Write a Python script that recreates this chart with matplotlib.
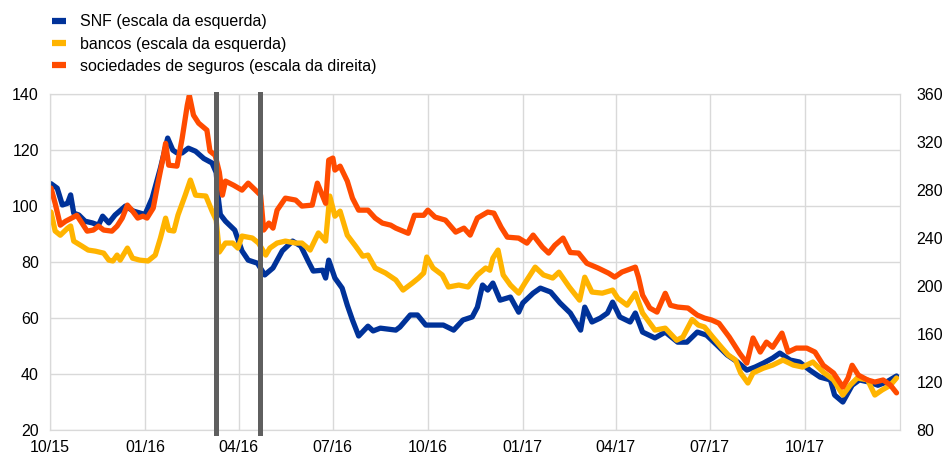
import pandas as pd
import matplotlib.pyplot as plt
import matplotlib.dates as mdates
from matplotlib.lines import Line2D

plt.rcParams['font.family'] = ['Liberation Sans', 'DejaVu Sans']

# SNF (escala da esquerda)
snf_dates = ['2015-10-02', '2015-10-08', '2015-10-13', '2015-10-18', '2015-10-21', '2015-10-24',
             '2015-10-29', '2015-11-04', '2015-11-11', '2015-11-17', '2015-11-21', '2015-11-27',
             '2015-12-03', '2015-12-13', '2015-12-21', '2016-01-01', '2016-01-08', '2016-01-16',
             '2016-01-23', '2016-01-28', '2016-02-01', '2016-02-06', '2016-02-12', '2016-02-19',
             '2016-02-27', '2016-03-06', '2016-03-10', '2016-03-12', '2016-03-14', '2016-03-19',
             '2016-03-28', '2016-04-04', '2016-04-10', '2016-04-19', '2016-04-26', '2016-05-04',
             '2016-05-13', '2016-05-23', '2016-05-31', '2016-06-07', '2016-06-12', '2016-06-21',
             '2016-06-24', '2016-06-27', '2016-07-03', '2016-07-10', '2016-07-15', '2016-07-20',
             '2016-07-26', '2016-08-04', '2016-08-09', '2016-08-16', '2016-08-31', '2016-09-04',
             '2016-09-14', '2016-09-21', '2016-09-29', '2016-10-06', '2016-10-16', '2016-10-26',
             '2016-11-04', '2016-11-13', '2016-11-18', '2016-11-23', '2016-11-28', '2016-12-03',
             '2016-12-10', '2016-12-20', '2016-12-28', '2017-01-01', '2017-01-11', '2017-01-18',
             '2017-01-28', '2017-02-06', '2017-02-16', '2017-02-26', '2017-03-02', '2017-03-09',
             '2017-03-17', '2017-03-24', '2017-03-29', '2017-04-05', '2017-04-15', '2017-04-20',
             '2017-04-27', '2017-05-09', '2017-05-19', '2017-05-31', '2017-06-09', '2017-06-19',
             '2017-06-28', '2017-07-08', '2017-07-18', '2017-07-28', '2017-08-06', '2017-08-14',
             '2017-08-22', '2017-08-31', '2017-09-07', '2017-09-17', '2017-09-26', '2017-10-06',
             '2017-10-16', '2017-10-26', '2017-10-30', '2017-11-07', '2017-11-16', '2017-11-23',
             '2017-12-03', '2017-12-11', '2017-12-19', '2017-12-29']
snf_values = [108, 106.4, 100.4, 101, 104, 97.5,
              96.8, 94.6, 94, 93.2, 96.4, 94,
              96.8, 100, 98.2, 97, 102.9, 113.6,
              124.3, 120, 119, 119, 120.7, 119.6,
              117, 115.4, 112, 103, 97, 94.6,
              91.4, 84, 80.7, 79.6, 75.4, 77.9,
              84, 87.5, 85.7, 80.4, 76.8, 77.1,
              74.3, 80.7, 74.3, 70.7, 64.6, 59.3,
              53.6, 57.1, 55.4, 56.4, 55.7, 56.8,
              61.1, 61.1, 57.5, 57.5, 57.5, 55.7,
              59.3, 60.4, 63.9, 71.8, 70, 72.5,
              66.4, 67.5, 62.1, 65.4, 68.9, 70.7,
              69.3, 65.4, 61.8, 55.7, 63.9, 58.6,
              60, 61.8, 65.7, 60.4, 58.6, 61.8,
              55, 52.9, 55, 51.4, 51.4, 55,
              53.9, 50.4, 46.8, 44.3, 41.4, 42.5,
              43.9, 45.7, 47.5, 45, 44.3, 41.4,
              38.9, 37.9, 32.5, 30, 36, 37.9,
              37.1, 36, 37.1, 39.3]

# bancos (escala da esquerda)
bancos_dates = ['2015-10-02', '2015-10-06', '2015-10-11', '2015-10-18', '2015-10-21', '2015-10-24',
                '2015-11-01', '2015-11-07', '2015-11-14', '2015-11-22', '2015-11-27', '2015-12-01',
                '2015-12-05', '2015-12-08', '2015-12-15', '2015-12-20', '2015-12-27', '2016-01-04',
                '2016-01-11', '2016-01-16', '2016-01-21', '2016-01-24', '2016-01-29', '2016-02-02',
                '2016-02-09', '2016-02-14', '2016-02-19', '2016-02-29', '2016-03-06', '2016-03-10',
                '2016-03-13', '2016-03-19', '2016-03-26', '2016-03-31', '2016-04-04', '2016-04-14',
                '2016-04-20', '2016-04-27', '2016-05-01', '2016-05-08', '2016-05-16', '2016-05-26',
                '2016-06-01', '2016-06-09', '2016-06-17', '2016-06-24', '2016-06-28', '2016-07-03',
                '2016-07-08', '2016-07-15', '2016-07-23', '2016-07-30', '2016-08-04', '2016-08-11',
                '2016-08-21', '2016-08-31', '2016-09-07', '2016-09-16', '2016-09-22', '2016-09-27',
                '2016-09-30', '2016-10-06', '2016-10-15', '2016-10-21', '2016-10-31', '2016-11-09',
                '2016-11-18', '2016-11-26', '2016-11-30', '2016-12-03', '2016-12-08', '2016-12-13',
                '2016-12-20', '2016-12-28', '2017-01-03', '2017-01-13', '2017-01-21', '2017-01-30',
                '2017-02-05', '2017-02-15', '2017-02-25', '2017-03-02', '2017-03-09', '2017-03-19',
                '2017-03-29', '2017-04-03', '2017-04-12', '2017-04-20', '2017-04-27', '2017-05-09',
                '2017-05-19', '2017-05-30', '2017-06-05', '2017-06-14', '2017-06-20', '2017-06-26',
                '2017-07-04', '2017-07-13', '2017-07-19', '2017-07-26', '2017-07-31', '2017-08-07',
                '2017-08-12', '2017-08-22', '2017-08-31', '2017-09-10', '2017-09-20', '2017-09-29',
                '2017-10-09', '2017-10-19', '2017-10-29', '2017-11-07', '2017-11-14', '2017-11-21',
                '2017-12-01', '2017-12-08', '2017-12-15', '2017-12-23', '2017-12-29']
bancos_values = [97.9, 91.1, 89.6, 92.1, 92.9, 87.5,
                 85.7, 84.3, 83.9, 83.2, 80.7, 80.4,
                 82.5, 80.7, 85, 81.4, 80.7, 80.4,
                 82.5, 88.6, 95.7, 91.4, 91.1, 96.8,
                 103.9, 109.3, 103.9, 103.6, 98.2, 95,
                 83.6, 86.8, 86.8, 85, 89.3, 88.6,
                 86.8, 82.5, 85, 86.8, 87.5, 86.8,
                 86.8, 84.3, 90.4, 87.5, 103.6, 96.4,
                 98.2, 89.6, 85.7, 82.1, 82.5, 77.9,
                 76.1, 73.6, 70, 72.5, 74.3, 76.1,
                 81.8, 77.9, 75.4, 71.1, 71.8, 71.1,
                 75.4, 77.9, 77.1, 81.4, 84.3, 75.4,
                 71.8, 68.9, 72.5, 78.2, 75.4, 74.3,
                 76.4, 71.1, 66.4, 74.6, 69.3, 68.9,
                 70, 67.1, 64.6, 68.9, 61.8, 55.7,
                 56.4, 52.1, 53.2, 59.5, 57.5, 56.8,
                 53.2, 49.3, 46.8, 45, 40.4, 36.8,
                 40.4, 42.1, 43.2, 45, 43.2, 42.5,
                 44.3, 40.7, 37.9, 32.5, 36, 38.6,
                 37.9, 32.5, 34.3, 36, 38.6]

# sociedades de seguros (escala da direita)
seguros_dates = ['2015-10-02', '2015-10-06', '2015-10-11', '2015-10-16', '2015-10-22', '2015-10-27',
                 '2015-11-01', '2015-11-06', '2015-11-12', '2015-11-17', '2015-11-22', '2015-11-30',
                 '2015-12-05', '2015-12-10', '2015-12-15', '2015-12-20', '2015-12-25', '2015-12-30',
                 '2016-01-03', '2016-01-09', '2016-01-14', '2016-01-19', '2016-01-21', '2016-01-24',
                 '2016-02-01', '2016-02-06', '2016-02-11', '2016-02-13', '2016-02-17', '2016-02-22',
                 '2016-03-01', '2016-03-04', '2016-03-09', '2016-03-13', '2016-03-16', '2016-03-19',
                 '2016-03-27', '2016-04-04', '2016-04-10', '2016-04-17', '2016-04-22', '2016-04-25',
                 '2016-04-30', '2016-05-04', '2016-05-08', '2016-05-16', '2016-05-26', '2016-06-01',
                 '2016-06-11', '2016-06-16', '2016-06-24', '2016-06-27', '2016-07-01', '2016-07-03',
                 '2016-07-08', '2016-07-15', '2016-07-20', '2016-07-26', '2016-08-04', '2016-08-11',
                 '2016-08-18', '2016-08-26', '2016-08-31', '2016-09-12', '2016-09-18', '2016-09-27',
                 '2016-10-01', '2016-10-08', '2016-10-18', '2016-10-28', '2016-11-05', '2016-11-11',
                 '2016-11-18', '2016-11-28', '2016-12-04', '2016-12-11', '2016-12-17', '2016-12-28',
                 '2017-01-05', '2017-01-11', '2017-01-20', '2017-01-26', '2017-02-01', '2017-02-09',
                 '2017-02-16', '2017-02-24', '2017-03-04', '2017-03-15', '2017-03-25', '2017-03-31',
                 '2017-04-07', '2017-04-20', '2017-04-23', '2017-04-27', '2017-05-04', '2017-05-11',
                 '2017-05-19', '2017-05-24', '2017-05-31', '2017-06-10', '2017-06-19', '2017-06-26',
                 '2017-07-03', '2017-07-10', '2017-07-20', '2017-07-30', '2017-08-06', '2017-08-12',
                 '2017-08-19', '2017-08-25', '2017-08-31', '2017-09-09', '2017-09-15', '2017-09-23',
                 '2017-10-03', '2017-10-11', '2017-10-19', '2017-10-29', '2017-11-07', '2017-11-12',
                 '2017-11-16', '2017-11-22', '2017-12-01', '2017-12-08', '2017-12-16', '2017-12-23',
                 '2017-12-29']
seguros_values = [281.7, 269, 250.8, 254, 256.7, 259,
                  252.5, 245.8, 246.7, 250, 246.7, 245.8,
                  250, 256.7, 267.5, 262.5, 256.7, 258.3,
                  256.7, 265, 287.5, 309, 319, 300.8,
                  300, 323, 350.8, 359, 342.5, 335.8,
                  330, 312.5, 309, 295, 275.8, 287.5,
                  284, 280, 285.8, 280, 275.8, 246.7,
                  252.5, 248.3, 263.3, 273.3, 271.7, 266.7,
                  267.5, 285.8, 269, 305, 306.7, 296.7,
                  300, 287.5, 273.3, 263.3, 263.3, 256.7,
                  252.5, 250.8, 248.3, 244, 259, 259,
                  263.3, 257.5, 255, 245, 248.3, 242.5,
                  256.7, 261.7, 260.8, 249, 240.8, 240,
                  235.8, 242.5, 232.5, 227.5, 234, 240,
                  228, 227.5, 219, 215, 210.8, 207.5,
                  211.7, 215.8, 207.5, 192.5, 181.7, 178.3,
                  194, 184, 182.5, 181.7, 175.8, 173.3,
                  171.7, 169, 157.5, 144, 135.8, 156.7,
                  145, 153.3, 149, 160.8, 145, 148.3,
                  148.3, 145, 134, 127.5, 115.8, 123.3,
                  134, 125.8, 121.7, 120, 121.7, 117.5,
                  111]

# events marked with vertical bars
event_dates = ['2016-03-10', '2016-04-21']

quarter_ticks = pd.date_range('2015-10-01', '2017-10-01', freq='QS-OCT')

blue = '#003299'
yellow = '#FFB400'
orange = '#FF4B00'
grid_col = '#D9D9D9'

fig = plt.figure(figsize=(9.43, 4.57), dpi=100)
ax = fig.add_axes([0.053, 0.059, 0.901, 0.735])
ax2 = ax.twinx()

ax.plot(pd.to_datetime(snf_dates), snf_values, color=blue, lw=3.8, solid_capstyle='round')
ax.plot(pd.to_datetime(bancos_dates), bancos_values, color=yellow, lw=3.8, solid_capstyle='round')
ax2.plot(pd.to_datetime(seguros_dates), seguros_values, color=orange, lw=3.8, solid_capstyle='round')

for d in event_dates:
    ax2.axvline(pd.Timestamp(d), color='#5F5F5F', lw=3.6, ymin=-0.01, ymax=1, clip_on=False, zorder=5)

ax.set_xlim(pd.Timestamp('2015-10-01'), pd.Timestamp('2018-01-01'))
ax.set_ylim(20, 140)
ax.set_yticks(range(20, 141, 20))
ax2.set_ylim(80, 360)
ax2.set_yticks(range(80, 361, 40))

ax.set_xticks(quarter_ticks)
ax.xaxis.set_major_formatter(mdates.DateFormatter('%m/%y'))

ax.grid(True, color=grid_col, lw=1)
ax.set_axisbelow(True)
for a in (ax, ax2):
    for s in a.spines.values():
        s.set_color(grid_col)
    a.tick_params(length=0, labelsize=11.5, colors='#000000')
ax.tick_params(axis='x', pad=7)
ax.tick_params(axis='y', pad=8)
ax2.tick_params(axis='y', pad=12)

handles = [Line2D([], [], color=c, lw=4.5, solid_capstyle='butt') for c in (blue, yellow, orange)]
labels = ['SNF (escala da esquerda)', 'bancos (escala da esquerda)',
          'sociedades de seguros (escala da direita)']
fig.legend(handles, labels, loc='upper left', bbox_to_anchor=(0.04, 1.0), frameon=False,
           fontsize=11.5, handlelength=0.9, handletextpad=0.85, labelspacing=0.45)

fig.savefig('out.png', dpi=100)
